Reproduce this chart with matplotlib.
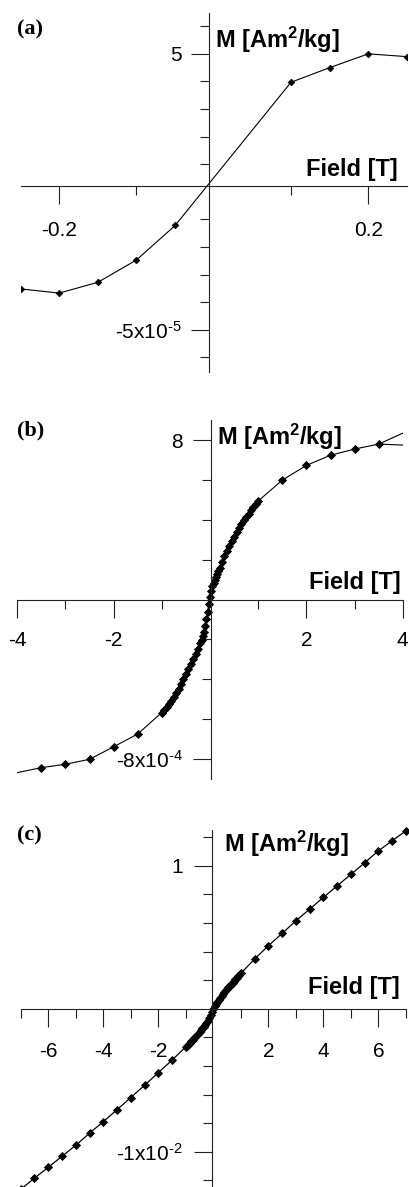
import matplotlib
matplotlib.use('Agg')
import matplotlib.pyplot as plt

plt.rcParams['font.family'] = ['Liberation Sans', 'DejaVu Sans']
plt.rcParams['mathtext.fontset'] = 'custom'
plt.rcParams['mathtext.rm'] = 'Liberation Sans'
plt.rcParams['mathtext.bf'] = 'Liberation Sans:bold'
plt.rcParams['mathtext.it'] = 'Liberation Sans:italic'
plt.rcParams['mathtext.default'] = 'regular'

# ---------------- data ----------------
# Panel (a): field [T], magnetization in units of 1e-5 Am2/kg
a_field = [-0.30, -0.25, -0.20, -0.15, -0.10, -0.05, 0.10, 0.15, 0.20, 0.25, 0.30]
a_moment = [-3.37, -3.52, -3.67, -3.28, -2.47, -1.22, 3.97, 4.50, 5.00, 4.90, 4.80]

# Panel (b): field [T], magnetization in units of 1e-4 Am2/kg
b_field = [-4.5, -3.5, -3.0, -2.5, -2.0, -1.5,
           -1.0, -0.95, -0.9, -0.85, -0.8, -0.75, -0.7, -0.65, -0.6, -0.55,
           -0.5, -0.45, -0.4, -0.35, -0.3, -0.25, -0.2,
           -0.175, -0.15, -0.125, -0.1, -0.075, -0.05, -0.025, 0.0,
           0.025, 0.05, 0.075, 0.1, 0.125, 0.15, 0.175, 0.2,
           0.25, 0.3, 0.35, 0.4, 0.45, 0.5, 0.55, 0.6, 0.65, 0.7, 0.75,
           0.8, 0.85, 0.9, 0.95, 1.0,
           1.5, 2.0, 2.5, 3.0, 3.5, 4.5]
b_moment = [-8.95, -8.45, -8.28, -8.03, -7.40, -6.76,
            -5.68, -5.55, -5.40, -5.25, -5.08, -4.90, -4.70, -4.48, -4.25, -4.00,
            -3.75, -3.50, -3.25, -3.00, -2.76, -2.50, -2.20,
            -2.03, -1.85, -1.62, -1.35, -1.00, -0.62, -0.22, 0.15,
            0.45, 0.68, 0.85, 1.00, 1.13, 1.28, 1.44, 1.60,
            1.90, 2.18, 2.44, 2.68, 2.92, 3.15, 3.37, 3.58, 3.78, 3.97, 4.15,
            4.32, 4.49, 4.65, 4.80, 4.95,
            6.00, 6.74, 7.25, 7.56, 7.81, 8.91]
b_return_field = [3.5, 4.5]
b_return_moment = [7.81, 7.71]

# Panel (c): field [T], magnetization in units of 1e-2 Am2/kg
c_field = [-7.0, -6.5, -6.0, -5.5, -5.0, -4.5, -4.0, -3.5, -3.0, -2.5, -2.0, -1.5,
           -1.0, -0.95, -0.9, -0.85, -0.8, -0.75, -0.7, -0.65, -0.6, -0.55,
           -0.5, -0.45, -0.4, -0.35, -0.3, -0.25, -0.2, -0.15, -0.1, -0.05, 0.0,
           0.05, 0.1, 0.15, 0.2, 0.25, 0.3, 0.35, 0.4, 0.45, 0.5,
           0.55, 0.6, 0.65, 0.7, 0.75, 0.8, 0.85, 0.9, 0.95, 1.0,
           1.5, 2.0, 2.5, 3.0, 3.5, 4.0, 4.5, 5.0, 5.5, 6.0, 6.5, 7.0]
c_moment = [-1.262, -1.185, -1.109, -1.032, -0.955, -0.870, -0.790, -0.706, -0.621, -0.535, -0.447, -0.359,
            -0.266, -0.257, -0.248, -0.238, -0.228, -0.218, -0.207, -0.196, -0.185, -0.174,
            -0.162, -0.150, -0.138, -0.126, -0.113, -0.100, -0.085, -0.068, -0.047, -0.024, 0.0,
            0.020, 0.035, 0.050, 0.064, 0.078, 0.092, 0.105, 0.117, 0.128, 0.139,
            0.150, 0.161, 0.172, 0.183, 0.194, 0.205, 0.216, 0.226, 0.237, 0.248,
            0.348, 0.441, 0.527, 0.615, 0.697, 0.779, 0.860, 0.940, 1.021, 1.105, 1.175, 1.245]

# ticks and labels
a_xmajor, a_xminor = [-0.2, 0.2], [-0.1, 0.1]
a_xlabels = ['-0.2', '0.2']
a_ymajor, a_yminor = [5, -5], [-6, -4, -3, -2, -1, 1, 2, 3, 4, 6]
a_ylabels = ['5', r'-5x10$^{\text{-5}}$']

b_xmajor, b_xminor = [-4, -2, 2, 4], [-3, -1, 1, 3]
b_xlabels = ['-4', '-2', '2', '4']
b_ymajor, b_yminor = [8, -8], [-6, -4, -2, 2, 4, 6]
b_ylabels = ['8', r'-8x10$^{\text{-4}}$']

c_xmajor, c_xminor = [-6, -4, -2, 2, 4, 6], [-7, -5, -3, -1, 1, 3, 5, 7]
c_xlabels = ['-6', '-4', '-2', '2', '4', '6']
c_ymajor, c_yminor = [1, -1], [-1.2, -0.8, -0.6, -0.4, -0.2, 0.2, 0.4, 0.6, 0.8, 1.2]
c_ylabels = ['1', r'-1x10$^{\text{-2}}$']

ylabel_text = r'M [Am$^{\mathbf{2}}$/kg]'
xlabel_text = 'Field [T]'

# ---------------- figure ----------------
W, H = 410, 1187
fig = plt.figure(figsize=(W / 100, H / 100), dpi=100)


def fx(px):
    return px / W


def fy(py):
    return 1 - py / H


def make_axes(left, right, top, bottom):
    return fig.add_axes([fx(left), fy(bottom), (right - left) / W, (bottom - top) / H])


def style(ax, xlim, ylim, xorigin, yorigin, xmaj, xmin, xlab, ymaj, ymin, ylab, xpad, ypad):
    ax.set_xlim(*xlim)
    ax.set_ylim(*ylim)
    for s in ['top', 'right']:
        ax.spines[s].set_visible(False)
    ax.spines['left'].set_position(('data', xorigin))
    ax.spines['bottom'].set_position(('data', yorigin))
    for s in ['left', 'bottom']:
        ax.spines[s].set_linewidth(0.8)
        ax.spines[s].set_color('#222222')
    ax.set_xticks(xmaj, xlab)
    ax.set_xticks(xmin, minor=True)
    ax.set_yticks(ymaj, ylab)
    ax.set_yticks(ymin, minor=True)
    ax.tick_params(which='major', length=13, width=0.8, color='#222222', labelsize=15, direction='out')
    ax.tick_params(which='minor', length=6.5, width=0.8, color='#222222', direction='out')
    ax.tick_params(axis='x', which='major', pad=xpad)
    ax.tick_params(axis='y', which='major', pad=ypad)
    ax.patch.set_visible(False)


# Panel (a)
axa = make_axes(20.6, 406.9, 13.3, 371.7)
axa.plot(a_field, a_moment, color='black', lw=0.8, marker='D', ms=3.4, mew=0.5)
style(axa, (-0.25, 0.25), (-6.52, 6.47), -0.006, 0.21,
      a_xmajor, a_xminor, a_xlabels, a_ymajor, a_yminor, a_ylabels, 12, 6.7)

# Panel (b)
axb = make_axes(17.2, 402.8, 420.4, 778.6)
axb.plot(b_field, b_moment, color='black', lw=0.8, marker='D', ms=3.8, mew=0.6)
axb.plot(b_return_field, b_return_moment, color='black', lw=0.8)
style(axb, (-4, 4), (-9, 9), 0.02, 0.0,
      b_xmajor, b_xminor, b_xlabels, b_ymajor, b_yminor, b_ylabels, 10, 7.4)

# Panel (c)
axc = make_axes(20.7, 406.0, 830.0, 1187.5)
axc.plot(c_field, c_moment, color='black', lw=0.9, marker='D', ms=4.2, mew=0.6, clip_on=False)
style(axc, (-7, 7), (-1.25, 1.25), -0.04, 0.0,
      c_xmajor, c_xminor, c_xlabels, c_ymajor, c_yminor, c_ylabels, 11, 8.4)

# axis labels
lab_kw = dict(fontsize=17, fontweight='bold', va='baseline')
fig.text(fx(215), fy(47.7), ylabel_text, ha='left', **lab_kw)
fig.text(fx(398), fy(176), xlabel_text, ha='right', **lab_kw)
fig.text(fx(216.7), fy(445), ylabel_text, ha='left', **lab_kw)
fig.text(fx(401), fy(588.5), xlabel_text, ha='right', **lab_kw)
fig.text(fx(224), fy(851.7), ylabel_text, ha='left', **lab_kw)
fig.text(fx(400), fy(994), xlabel_text, ha='right', **lab_kw)

# panel letters
pl_kw = dict(fontsize=16, fontweight='bold', family='Liberation Serif', va='top', ha='left')
fig.text(fx(17), fy(19), '(a)', **pl_kw)
fig.text(fx(17), fy(420.7), '(b)', **pl_kw)
fig.text(fx(17), fy(825.7), '(c)', **pl_kw)

fig.savefig('out.png', dpi=100)
